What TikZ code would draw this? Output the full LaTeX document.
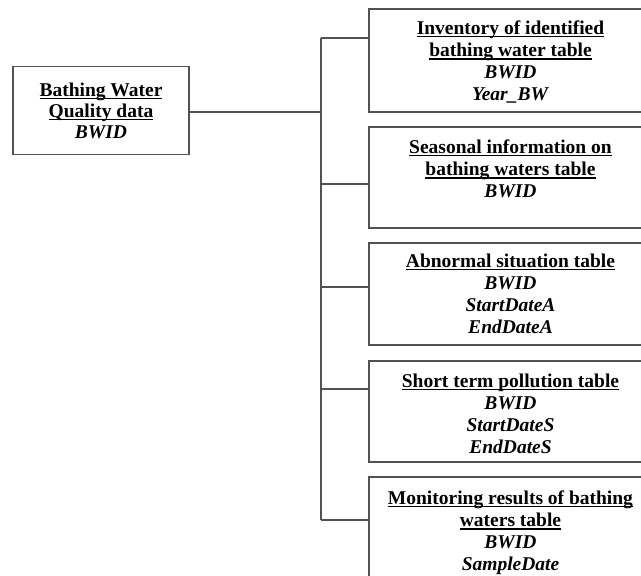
\documentclass[tikz,border=0pt]{standalone}
\usepackage{fontspec}
\setmainfont{Liberation Serif}
\newcommand\myul[1]{\setbox0\hbox{#1}\rlap{\raisebox{-3.2pt}{\rule{\wd0}{1.5pt}}}\box0}
\newcommand\fld[1]{\textbf{\textit{#1}}}
\begin{document}
\begin{tikzpicture}[x=1pt,y=-1pt,
  line/.style={draw=black!68,line width=1.4pt},
  tbox/.style={line, rectangle, minimum width=283pt, inner sep=0pt},
  lbox/.style={line, rectangle, minimum width=176pt, minimum height=88pt, inner sep=0pt,
     align=center, font=\fontsize{19.5}{21}\selectfont\bfseries},
  txt/.style={anchor=north, inner sep=0pt, align=center, font=\fontsize{19.5}{22.2}\selectfont\bfseries}]
\useasboundingbox (0,0) rectangle (641,576);
\clip (0,0) rectangle (641,576);
\fill[white] (0,0) rectangle (641,576);

\node[lbox] (root) at (101,110.5) {\myul{Bathing Water}\\\myul{Quality data}\\\fld{BWID}};

\node[tbox, minimum height=103pt] (b1) at (510.5,60.5) {};
\node[tbox, minimum height=101pt] (b2) at (510.5,177.5) {};
\node[tbox, minimum height=102pt] (b3) at (510.5,294) {};
\node[tbox, minimum height=101pt] (b4) at (510.5,411.5) {};
\node[tbox, minimum height=140pt] (b5) at (510.5,547) {};

\node[txt] (t1) at ([yshift=-12pt]b1.north) {\myul{Inventory of identified}\\\myul{bathing water table}\\\fld{BWID}\\\fld{Year\_BW}};
\node[txt] (t2) at ([yshift=-13pt]b2.north) {\myul{Seasonal information on}\\\myul{bathing waters table}\\\fld{BWID}};
\node[txt] (t3) at ([yshift=-11pt]b3.north) {\myul{Abnormal situation table}\\\fld{BWID}\\\fld{StartDateA}\\\fld{EndDateA}};
\node[txt] (t4) at ([yshift=-13pt]b4.north) {\myul{Short term pollution table}\\\fld{BWID}\\\fld{StartDateS}\\\fld{EndDateS}};
\node[txt] (t5) at ([yshift=-14pt]b5.north) {\myul{Monitoring results of bathing}\\\myul{waters table}\\\fld{BWID}\\\fld{SampleDate}};

\coordinate (j0) at (321,112);
\coordinate (j1) at (321,38);
\coordinate (j2) at (321,184);
\coordinate (j3) at (321,287);
\coordinate (j4) at (321,389);
\coordinate (j5) at (321,520);

\draw[line] (root.east |- j0) -- (j0);
\draw[line] (j1) -- (j5);
\draw[line] (j1) -- (b1.west |- j1);
\draw[line] (j2) -- (b2.west |- j2);
\draw[line] (j3) -- (b3.west |- j3);
\draw[line] (j4) -- (b4.west |- j4);
\draw[line] (j5) -- (b5.west |- j5);
\end{tikzpicture}
\end{document}
